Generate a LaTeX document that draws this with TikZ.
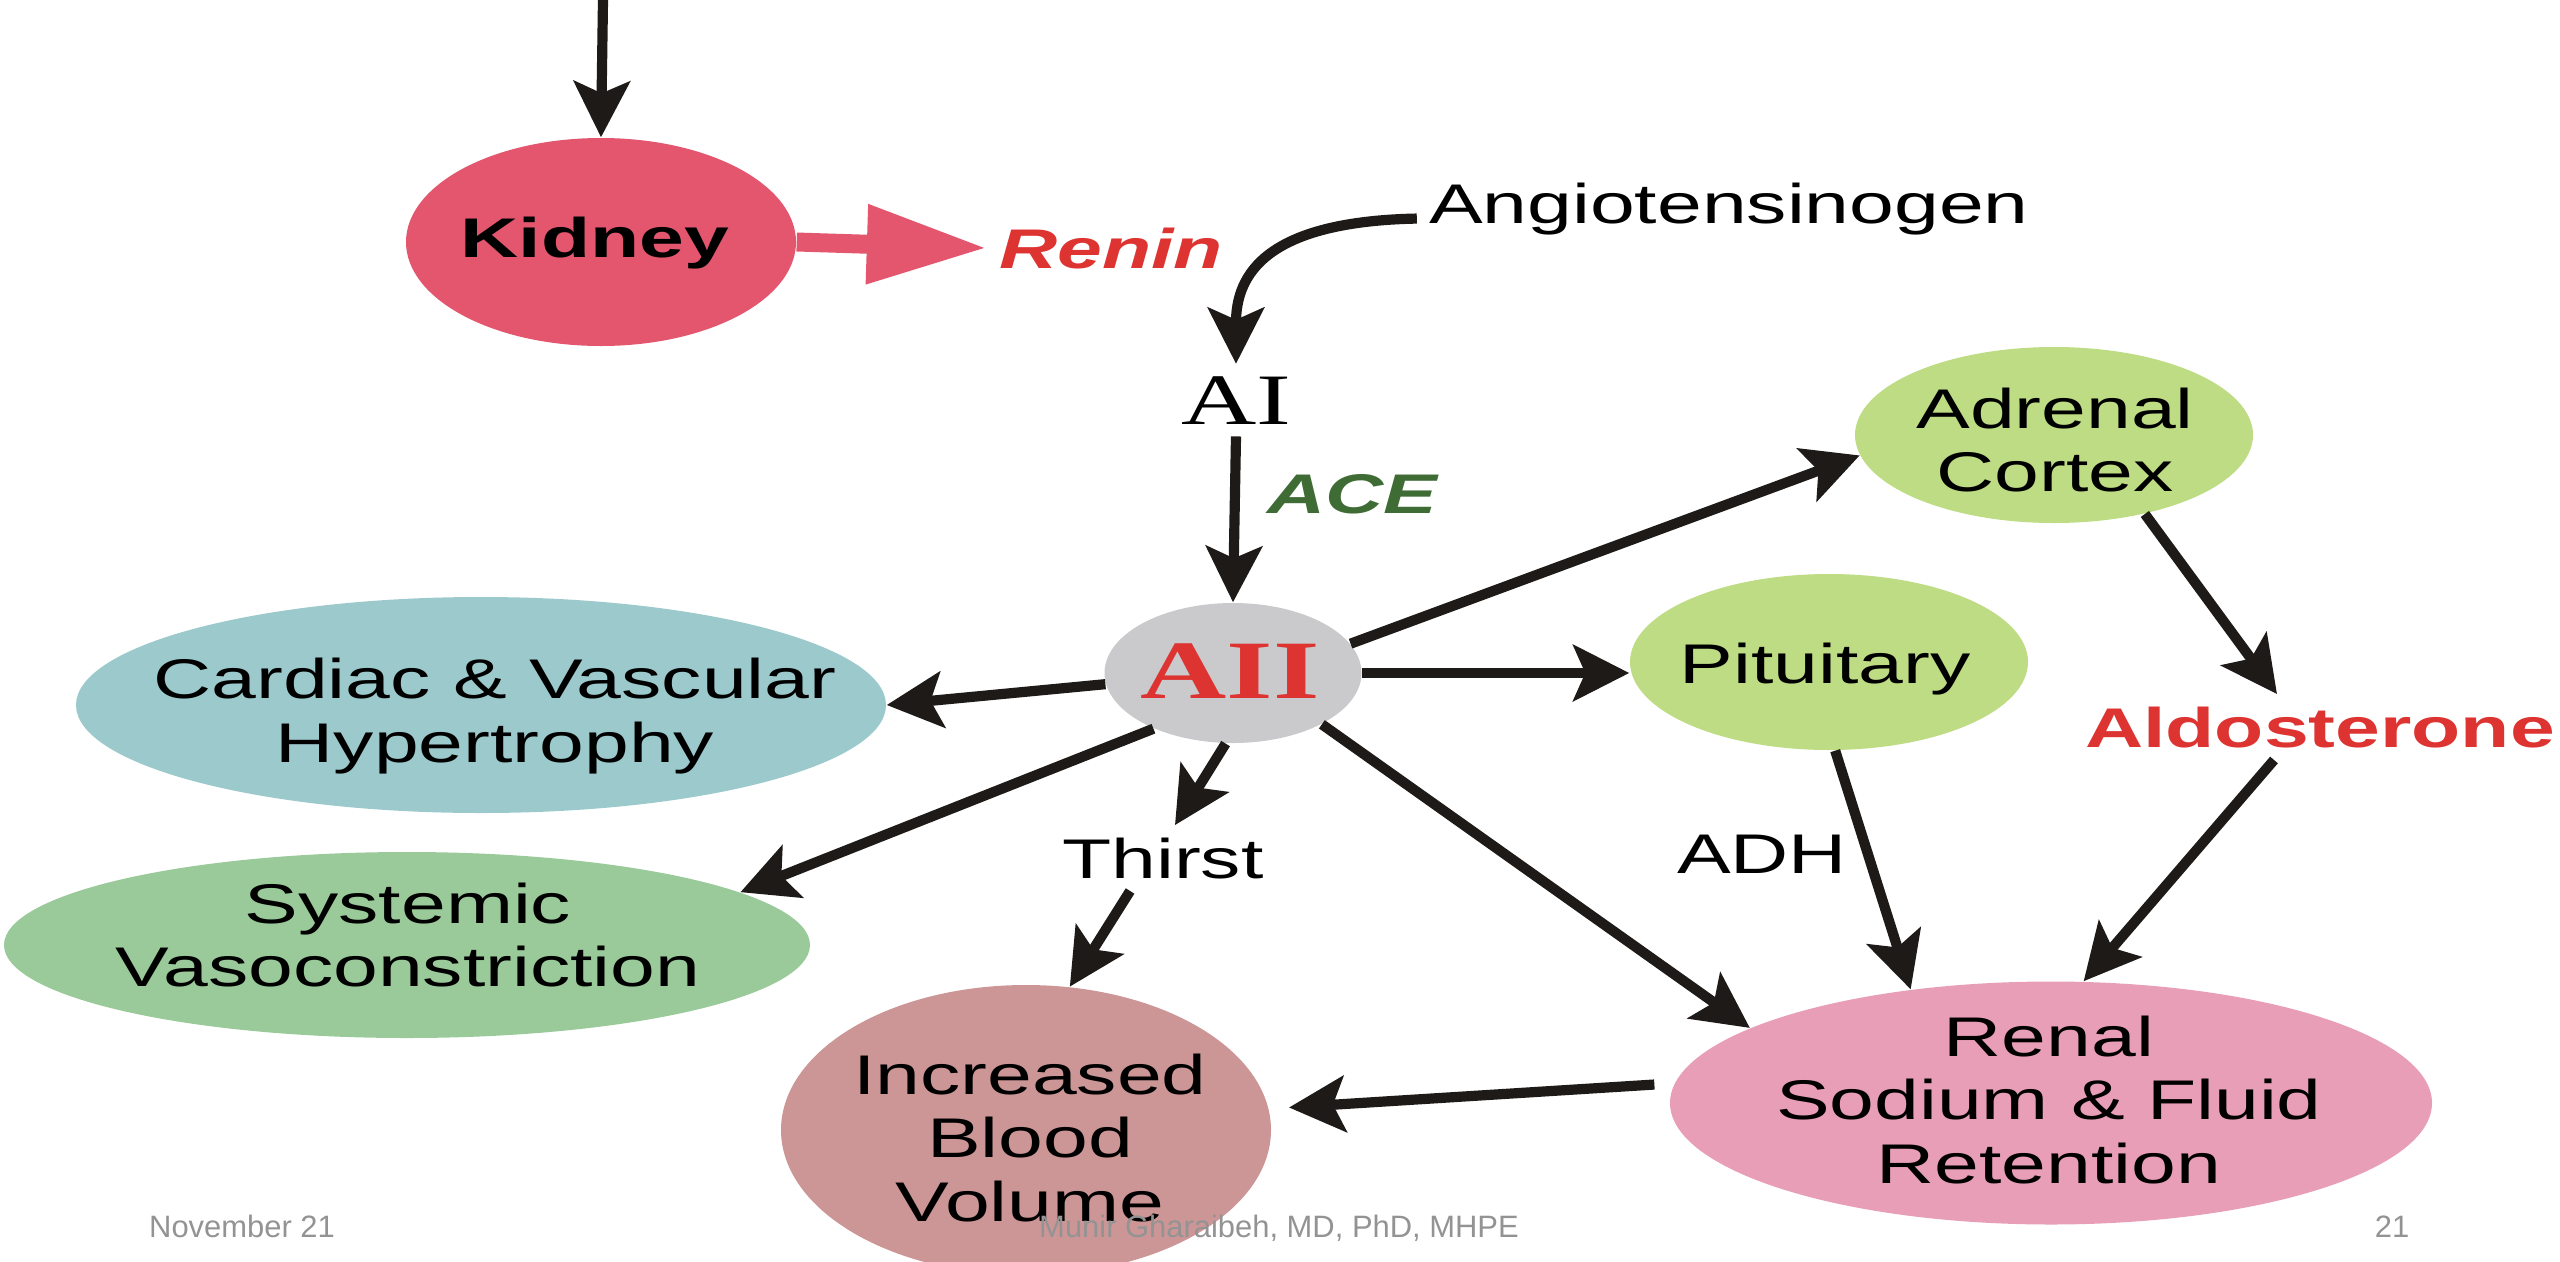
\documentclass[tikz,border=0pt]{standalone}
\usepackage{fontspec}
\setmainfont{Liberation Sans}[FakeStretch=1.44]
\newfontfamily\serifwide{Liberation Serif}[FakeStretch=1.44]
\newfontfamily\footfont{Liberation Sans}
\usetikzlibrary{shapes,arrows.meta,positioning}

\definecolor{kidneyred}{RGB}{227,86,110}
\definecolor{aiigray}{RGB}{202,202,205}
\definecolor{cardteal}{RGB}{156,201,204}
\definecolor{sysgreen}{RGB}{154,202,154}
\definecolor{bloodrose}{RGB}{204,150,150}
\definecolor{renalpink}{RGB}{231,158,182}
\definecolor{glandgreen}{RGB}{189,220,131}
\definecolor{hormred}{RGB}{221,52,50}
\definecolor{acegreen}{RGB}{63,107,52}
\definecolor{arrowblack}{RGB}{30,26,24}

\tikzset{
  blob/.style={ellipse, fill=#1, inner sep=0pt},
  lbl/.style={font=\fontsize{15.9}{18.2}\selectfont, align=center},
  arr/.style={-{Stealth[length=5.6mm, width=5.6mm, inset=1.2mm]}, line width=2.9pt, draw=arrowblack},
  pinkarr/.style={-{Triangle[length=1.2cm, width=0.75cm]}, line width=5.4pt, draw=kidneyred},
  foot/.style={font=\footfont\fontsize{8.8}{10}\selectfont, text=gray!85, anchor=base}
}

\begin{document}
\begin{tikzpicture}
\useasboundingbox (0,0) rectangle (25.6,-12.61);

% ellipses
\node[blob=kidneyred, minimum width=3.9cm, minimum height=2.08cm] (kidney) at (6.01,-2.42) {};
\node[blob=aiigray, minimum width=2.57cm, minimum height=1.40cm] (aii) at (12.33,-6.73) {};
\node[blob=cardteal, minimum width=8.10cm, minimum height=2.16cm] (cardiac) at (4.81,-7.05) {};
\node[blob=sysgreen, minimum width=8.06cm, minimum height=1.86cm] (systemic) at (4.07,-9.45) {};
\node[blob=bloodrose, minimum width=4.90cm, minimum height=2.90cm] (ibv) at (10.26,-11.30) {};
\node[blob=renalpink, minimum width=7.62cm, minimum height=2.43cm] (renal) at (20.51,-11.03) {};
\node[blob=glandgreen, minimum width=3.98cm, minimum height=1.76cm] (adrenal) at (20.54,-4.35) {};
\node[blob=glandgreen, minimum width=3.98cm, minimum height=1.76cm] (pituitary) at (18.29,-6.62) {};

% texts
\node[lbl, anchor=base, font=\fontsize{15.9}{18.2}\selectfont\bfseries] (kidney-t) at (5.95,-2.57) {Kidney};
\node[lbl, anchor=base, text=hormred, font=\fontsize{15.9}{18.2}\selectfont\bfseries\itshape] (renin) at (11.11,-2.68) {Renin};
\node[lbl, anchor=base] (angio) at (17.29,-2.23) {Angiotensinogen};
\node[lbl, anchor=base, font=\serifwide\fontsize{20.6}{24}\selectfont] (ai) at (12.36,-4.24) {AI};
\node[lbl, anchor=base, text=acegreen, font=\fontsize{15.9}{18.2}\selectfont\bfseries\itshape] (ace) at (13.52,-5.13) {ACE};
\node[lbl, anchor=base, text=hormred, font=\serifwide\bfseries\fontsize{23.6}{26}\selectfont] (aii-t) at (12.30,-6.98) {AII};
\node[lbl] (cardiac-t) at (4.95,-7.16) {Cardiac \& Vascular\\Hypertrophy};
\node[lbl] (systemic-t) at (4.08,-9.35) {Systemic\\Vasoconstriction};
\node[lbl] (ibv-t) at (10.30,-11.38) {Increased\\Blood\\Volume};
\node[lbl] (renal-t) at (20.49,-11.00) {Renal\\Sodium \& Fluid\\Retention};
\node[lbl] (adrenal-t) at (20.55,-4.40) {Adrenal\\Cortex};
\node[lbl, anchor=base] (pituitary-t) at (18.25,-6.83) {Pituitary};
\node[lbl, anchor=base, text=hormred, font=\fontsize{15.9}{18.2}\selectfont\bfseries] (aldo) at (23.20,-7.47) {Aldosterone};
\node[lbl, anchor=base] (thirst) at (11.63,-8.78) {Thirst};
\node[lbl, anchor=base] (adh) at (17.62,-8.73) {ADH};

% footer
\node[foot] (date) at (2.42,-12.37) {November 21};
\node[foot] (author) at (12.79,-12.37) {Munir Gharaibeh, MD, PhD, MHPE};
\node[foot] (page) at (23.92,-12.37) {21};

% connectors
\coordinate (kin) at (6.03,0);
\draw[arr] (kin) -- (kidney.north);
\draw[pinkarr] (kidney.east) -- (renin.west);
\draw[arr] ([yshift=-0.1cm]angio.west) .. controls +(-1.5,-0.03) and +(0,0.9) .. (ai.north);
\draw[arr] (ai.south) -- (aii.north);
\draw[arr] (aii.185) -- (cardiac.east);
\draw[arr] (aii.215) -- (systemic.9);
\draw[arr] (aii.264) -- (thirst.70);
\draw[arr] (thirst.225) -- (ibv.73);
\draw[arr] (aii.14) -- (adrenal.186);
\draw[arr] (aii.east) -- (aii.east -| pituitary.west);
\draw[arr] (aii.330) -- (renal.166);
\draw[arr] (adrenal.319) -- ([xshift=-0.43cm]aldo.north);
\draw[arr] ([xshift=-0.46cm]aldo.south) -- (renal.75);
\draw[arr] (pituitary.274) -- (renal.141);
\draw[arr, shorten <=0.2cm, shorten >=0.2cm] (renal.177) -- (ibv.5);
\end{tikzpicture}
\end{document}
